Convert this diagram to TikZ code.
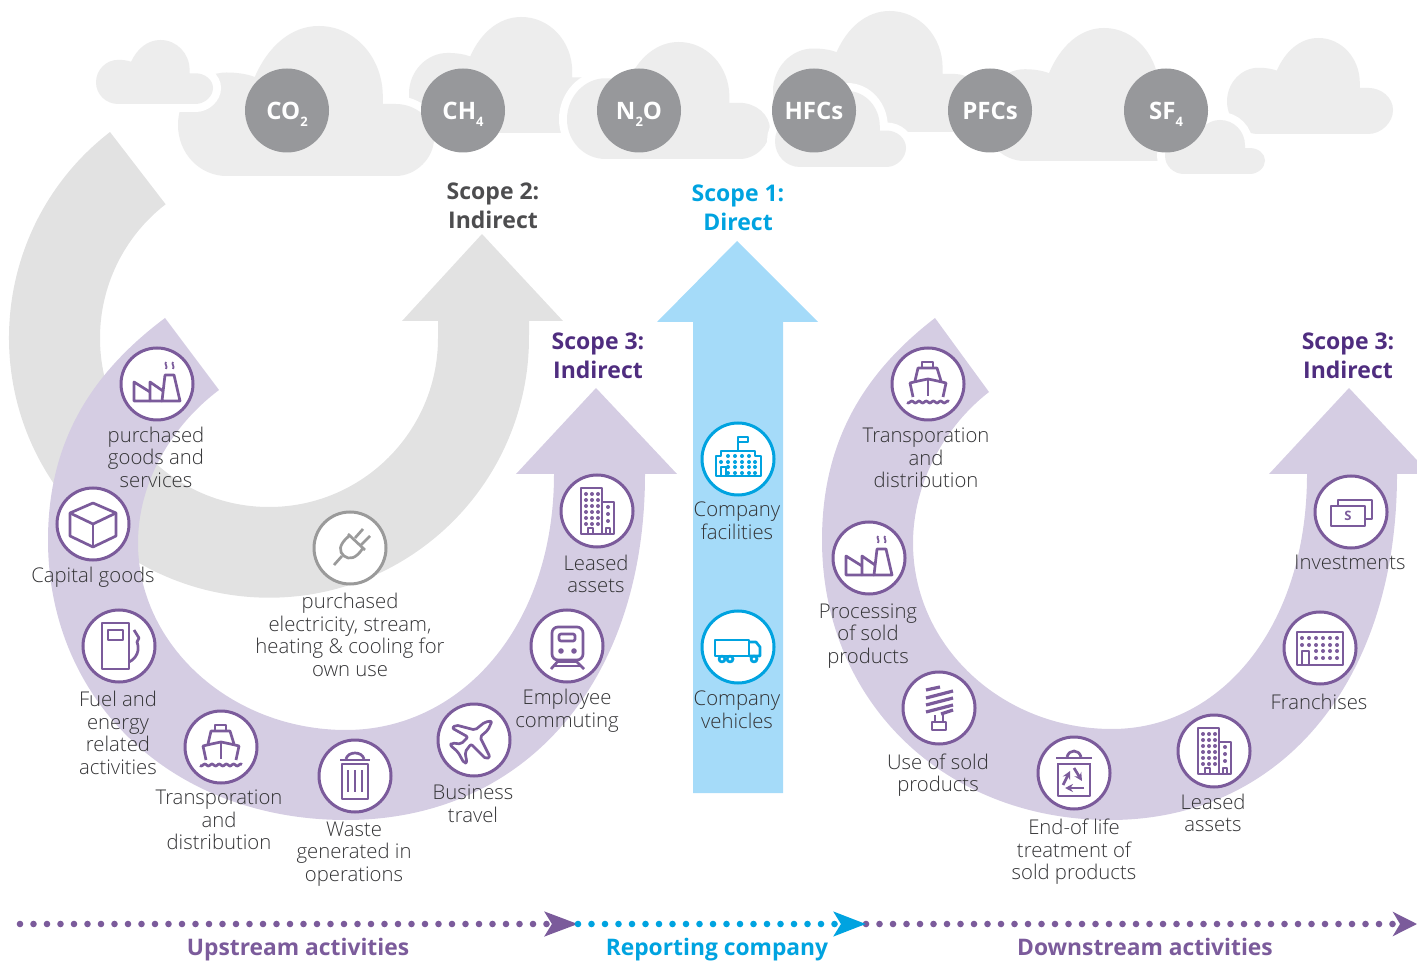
\documentclass[tikz,border=0pt]{standalone}
\usepackage{fontspec}
\setmainfont{Open Sans}
\newfontfamily\lightfont{Open Sans Light}
\usetikzlibrary{arrows.meta}
\definecolor{cloudgray}{HTML}{EDEDED}
\definecolor{gasgray}{HTML}{97989B}
\definecolor{arrowgray}{HTML}{E2E2E2}
\definecolor{ringgray}{HTML}{9A9A9A}
\definecolor{textgray}{HTML}{4D4D4F}
\definecolor{labelgray}{HTML}{333335}
\definecolor{paleviolet}{HTML}{D5CDE3}
\definecolor{ringviolet}{HTML}{7B5B9B}
\definecolor{deepviolet}{HTML}{4F2D7F}
\definecolor{paleblue}{HTML}{A5DBF9}
\definecolor{ringblue}{HTML}{00A3E0}
\newcommand{\gassub}[1]{\smash{\raisebox{-3.5pt}{\fontsize{6.5}{7}\selectfont #1}}}
\tikzset{
  gas/.style={circle,fill=gasgray,text=white,minimum size=42pt,inner sep=0pt,font=\bfseries\fontsize{12}{14}\selectfont},
  iconring/.style={circle,draw=ringviolet,fill=white,line width=1.5pt,minimum size=36pt,inner sep=0pt},
  lbl/.style={align=center,text=labelgray,font=\lightfont\fontsize{10.15}{11.3}\selectfont},
  scopelbl/.style={align=center,font=\bfseries\fontsize{11.5}{14.4}\selectfont},
  bottomlbl/.style={anchor=base,font=\bfseries\fontsize{11.4}{14}\selectfont},
  cloudshape/.style={fill=cloudgray,preaction={draw=white,line width=8pt}},
  iconline/.style={line width=1.35pt,line join=round},
  dotline/.style={line width=3.3pt,line cap=round,dash pattern=on 0pt off 6.75pt},
}
% left, top, width, height
\newcommand{\cloud}[4]{
\begin{scope}[shift={(#1,#2)},x=#3*0.5pt,y=-#4*0.5pt]
\path[cloudshape] (.19,1) .. controls (.085,1) and (0,.85) .. (0,.66)
  .. controls (0,.47) and (.085,.31) .. (.19,.31)
  .. controls (.23,.31) and (.27,.32) .. (.30,.34)
  .. controls (.35,.14) and (.44,0) .. (.55,0)
  .. controls (.69,0) and (.80,.21) .. (.80,.47) -- (.80,.52) -- (.85,.52)
  .. controls (.93,.52) and (1,.62) .. (1,.75)
  .. controls (1,.88) and (.93,1) .. (.85,1) -- cycle;
\end{scope}
}
\newcommand{\factoryicon}[2]{
\begin{scope}[shift={(#1,#2)},iconline,color=ringviolet]
\draw (-7,17) -- (-23,17) -- (-23,-2) -- (-7,8);
\draw (5,17) -- (-7,17) -- (-7,-2) -- (6,7);
\draw (5,17) -- (8,-9) -- (17,-9) -- (23,17) -- cycle;
\foreach \x in {9,16} {
  \draw[line width=0.9pt] (\x,-22) .. controls (\x-2,-20) and (\x+2,-18) .. (\x,-15);
}
\end{scope}
}
\newcommand{\shipicon}[2]{
\begin{scope}[shift={(#1,#2)},iconline,color=ringviolet]
\draw (-6,-16) -- (-6,-22) -- (5,-22) -- (5,-16);
\draw (-13,-3) -- (-10,-16) -- (9,-16) -- (13,-3);
\draw (-15,13) -- (-18,-1) .. controls (-10,-3) and (-5,-4) .. (0,-5) .. controls (5,-4) and (10,-3) .. (18,-1) -- (15,13);
\draw (0,-5) -- (0,12);
\draw plot[domain=-21:21,samples=43] (\x,{18+1*sin(\x*50)});
\end{scope}
}
\newcommand{\towericon}[2]{
\begin{scope}[shift={(#1,#2)},iconline,color=ringviolet]
\draw (5,23) -- (-16,23) -- (-16,-23) -- (5,-23) -- (5,23);
\draw (5,-9) -- (17,-9) -- (17,23) -- (5,23);
\draw (-9,23) -- (-9,17) -- (-4,17) -- (-4,23);
\draw (9,23) -- (9,17) -- (13,17) -- (13,23);
\foreach \y in {-17,-11,-5,1,7,13} {
  \foreach \x in {-11,-5,1} {
    \fill (\x,\y) circle (1pt);
  }
}
\foreach \y in {-4,3,10} {
  \fill (11,\y) circle (1pt);
}
\end{scope}
}
\begin{document}
\begin{tikzpicture}[x=0.5pt,y=-0.5pt]
\useasboundingbox (0,0) rectangle (1417,961);
\clip (0,0) rectangle (1417,961);
% clouds
\cloud{409}{17}{204}{116}
\cloud{178}{26}{256}{150}
\cloud{96}{40}{117}{64}
\cloud{773}{11}{212}{121}
\cloud{983}{28}{220}{133}
\cloud{567}{42}{203}{117}
\cloud{775}{91}{131}{76}
\cloud{1227}{38}{166}{96}
\cloud{1165}{120}{100}{54}
\foreach \x/\n/\t in {287/co/{CO\gassub{2}},463/ch/{CH\gassub{4}},639/no/{N\gassub{2}O},814/hfc/{HFCs},990/pfc/{PFCs},1166/sf/{SF\gassub{4}}} {
  \node[gas] (\n) at (\x,110.5) {\t};
}
% scope 2 arrow
\fill[arrowgray] (110,132) arc[start angle=127.7,end angle=360,radius=130pt]
  -- (529,321) -- (563,321) -- (482,234) -- (402,321) -- (438,321) -- (438,338)
  arc[start angle=0,end angle=-232.3,radius=84.5pt] -- cycle;
% scope 3 arrows
\fill[paleviolet] (165,318) .. controls (93,372) and (48,440) .. (48,540)
  .. controls (48,702) and (173,820) .. (346,820)
  .. controls (525,820) and (645,682) .. (645,474)
  -- (677,474) -- (596,388) -- (516,474) -- (554,474)
  .. controls (554,628) and (460,730) .. (346,730)
  .. controls (232,730) and (138,646) .. (138,543)
  .. controls (138,483) and (171,426) .. (219,390) -- cycle;
\fill[paleviolet] (935,318) .. controls (865,372) and (822,440) .. (822,540)
  .. controls (822,702) and (945,820) .. (1110,820)
  .. controls (1281,820) and (1397,682) .. (1397,474)
  -- (1430,474) -- (1349,388) -- (1269,474) -- (1307,474)
  .. controls (1307,628) and (1220,729) .. (1112,729)
  .. controls (1002,729) and (913,646) .. (913,543)
  .. controls (913,483) and (945,426) .. (989,392) -- cycle;
% scope 1 arrow
\fill[paleblue] (657,322) -- (737,241) -- (818,322) -- (783,322) -- (783,793) -- (693,793) -- (693,322) -- cycle;
% titles
\node[scopelbl,text=textgray] (scope2) at (493,206) {Scope 2:\\Indirect};
\node[scopelbl,text=ringblue] (scope1) at (738,208) {Scope 1:\\Direct};
\node[scopelbl,text=deepviolet] (scope3a) at (598,356) {Scope 3:\\Indirect};
\node[scopelbl,text=deepviolet] (scope3b) at (1348,356) {Scope 3:\\Indirect};
% rings
\foreach \n/\x/\y in {goods/157/384,capital/93/524,fuel/119/646,transa/221/747,waste/355/776,travel/474/740,commute/567/646,leaseda/597/511,transb/928/384,process/869/558,use/939/708,endlife/1074/773,leasedb/1214/751,franchise/1320/648,invest/1351/512} {
  \node[iconring] (\n) at (\x,\y) {};
}
\node[iconring,draw=ringgray] (plug) at (350,548) {};
\node[iconring,draw=ringblue] (facility) at (738,459) {};
\node[iconring,draw=ringblue] (vehicle) at (738,647) {};
% icons
\factoryicon{157}{384}
\factoryicon{869}{558}
\shipicon{221}{747}
\shipicon{928}{384}
\towericon{597}{511}
\towericon{1214}{751}
% cube
\begin{scope}[shift={(93,524)},iconline,color=ringviolet]
\draw (0,-21) -- (23,-11) -- (23,12) -- (0,23) -- (-23,12) -- (-23,-11) -- cycle;
\draw (-23,-11) -- (0,0) -- (23,-11);
\draw (0,0) -- (0,23);
\end{scope}
% pump
\begin{scope}[shift={(119,646)},iconline,color=ringviolet]
\draw (-17,-23) rectangle (10,23);
\draw (-11,-16) rectangle (4,-6);
\draw (15,-16) -- (20,-8) -- (18,-4) .. controls (21,4) and (18,12) .. (10,16);
\end{scope}
% bin
\begin{scope}[shift={(355,776)},iconline,color=ringviolet]
\draw (-15,-16) -- (15,-16);
\draw (-9,-17) .. controls (-7,-25) and (7,-25) .. (9,-17);
\draw (-13,-12) rectangle (13,23);
\foreach \x in {-7,0,7} {
  \draw (\x,-6) -- (\x,16);
}
\end{scope}
% plane
\begin{scope}[shift={(474,740)},iconline,color=ringviolet]
\draw[rounded corners=1pt] (18,-19) -- (14,-10) -- (6,-3) -- (16,17) -- (12,19) -- (-3,4) -- (-9,12) -- (-7,23) -- (-10,23) -- (-16,12) -- (-24,5) -- (-22,3) -- (-13,4) -- (-6,-3) -- (-22,-12) -- (-18,-15) -- (1,-10) -- (11,-18) -- cycle;
\end{scope}
% train
\begin{scope}[shift={(567,646)},iconline,color=ringviolet]
\draw[rounded corners=3pt] (-15,-19) rectangle (16,14);
\draw[rounded corners=1pt] (-8,-12) rectangle (8,-5);
\fill (-6,5) circle (1.4pt) (7,5) circle (1.4pt);
\draw (-8,14) -- (-16,23) (8,14) -- (17,23);
\draw (-10,16) -- (10,16) (-13,20) -- (13,20);
\end{scope}
% plug
\begin{scope}[shift={(350,548)},iconline,color=ringgray]
\draw (-16,17) -- (-8,8);
\draw (-2,-14) -- (15,2);
\draw (-1,-12) .. controls (-12,-3) and (-11,4) .. (-6,8) .. controls (-1,12) and (6,11) .. (13,0);
\draw (5,-10) -- (13,-19) (11,-3) -- (20,-12);
\end{scope}
% office
\begin{scope}[shift={(738,459)},iconline,color=ringblue]
\draw (-22,17) -- (-22,-3) -- (-17,-3) -- (-17,-8) -- (17,-8) -- (17,-3) -- (23,-3) -- (23,17) -- cycle;
\draw (0,-8) -- (0,-22) -- (10,-22) -- (10,-17) -- (0,-17);
\draw (-17,17) -- (-17,8) -- (-12,8) -- (-12,17);
\foreach \x in {-10,-3,4,11} {
  \fill (\x,-3) circle (1pt);
}
\foreach \y in {3,8,14} {
  \foreach \x in {-10,-3,4,11,17} {
    \fill (\x,\y) circle (1pt);
  }
}
\fill (-17,3) circle (1pt);
\end{scope}
% truck
\begin{scope}[shift={(738,647)},iconline,color=ringblue]
\draw (-23,-7) rectangle (11,9);
\draw (11,-5) -- (18,-5) -- (22,0) -- (22,9) -- (11,9);
\foreach \x in {-16,-8,16} {
  \draw[fill=white] (\x,12) circle (1.5pt);
}
\end{scope}
% bulb
\begin{scope}[shift={(939,708)},iconline,color=ringviolet]
\draw[line width=1.6pt] (-13,-18) -- (1,-21) (-13,-10) -- (14,-17) (-13,-3) -- (14,-10) (-13,4) -- (14,-3) (2,6) -- (14,2);
\draw (-7,14) rectangle (7,22);
\draw (-4,7) -- (-4,14) (4,5) -- (4,14);
\end{scope}
% recycle bin
\begin{scope}[shift={(1074,773)},iconline,color=ringviolet]
\draw (-18,-15) -- (18,-15);
\draw (-7,-16) .. controls (-5,-24) and (5,-24) .. (7,-16);
\draw (-17,-9) -- (17,-9) (-16,-9) -- (-16,23) -- (16,23) -- (16,-9);
\draw[-{Stealth[length=4pt,width=4pt]}] (-11,12) -- (-4,-2);
\draw[-{Stealth[length=4pt,width=4pt]}] (0,-5) -- (8,8);
\draw[-{Stealth[length=4pt,width=4pt]}] (10,15) -- (-9,15);
\end{scope}
% building
\begin{scope}[shift={(1320,648)},iconline,color=ringviolet]
\draw (-23,-16) rectangle (23,17);
\draw (-18,17) -- (-18,3) -- (-11,3) -- (-11,17);
\foreach \y in {-10,-3} {
  \foreach \x in {-18,-11,-4,3,10,17} {
    \fill (\x,\y) circle (1pt);
  }
}
\foreach \y in {3,10} {
  \foreach \x in {-4,3,10,17} {
    \fill (\x,\y) circle (1pt);
  }
}
\end{scope}
% bills
\begin{scope}[shift={(1351,512)},iconline,color=ringviolet]
\draw (-13,-6) -- (-13,-12) -- (21,-12) -- (21,7) -- (14,7);
\draw (-20,-6) rectangle (14,14);
\node[font=\bfseries\fontsize{6.5}{7}\selectfont,text=ringviolet] (dollar) at (-3,4) {S};
\end{scope}
% labels
\node[lbl] (lblgoods) at (156,457) {purchased\\goods and\\services};
\node[lbl] (lblcapital) at (93,577) {Capital goods};
\node[lbl] (lblfuel) at (118,733) {Fuel and\\energy\\related\\activities};
\node[lbl] (lbltransa) at (219,820) {Transporation\\and\\distribution};
\node[lbl] (lblwaste) at (354,854) {Waste\\generated in\\operations};
\node[lbl] (lbltravel) at (473,804) {Business\\travel};
\node[lbl] (lblcommute) at (567,711) {Employee\\commuting};
\node[lbl] (lblleaseda) at (596,574) {Leased\\assets};
\node[lbl] (lblplug) at (350,635) {purchased\\electricity, stream,\\heating \& cooling for\\own use};
\node[lbl] (lblfacility) at (737,521) {Company\\facilities};
\node[lbl] (lblvehicle) at (737,710) {Company\\vehicles};
\node[lbl] (lbltransb) at (926,458) {Transporation\\and\\distribution};
\node[lbl] (lblprocess) at (868,636) {Processing\\of sold\\products};
\node[lbl] (lbluse) at (938,775) {Use of sold\\products};
\node[lbl] (lblendlife) at (1074,852) {End-of life\\treatment of\\sold products};
\node[lbl] (lblleasedb) at (1213,813) {Leased\\assets};
\node[lbl] (lblfranchise) at (1319,702) {Franchises};
\node[lbl] (lblinvest) at (1350,562) {Investments};
% bottom
\coordinate (upstart) at (20,924);
\coordinate (upend) at (578,924);
\coordinate (repend) at (866,924);
\coordinate (downend) at (1417,924);
\draw[dotline,ringviolet,-{Stealth[length=16.5pt,width=12pt,inset=3.5pt]}] (upstart) -- (upend);
\draw[dotline,ringviolet,-{Stealth[length=12pt,width=12pt,inset=3.5pt]}] (repend) -- (downend);
\draw[dotline,ringblue,-{Stealth[length=16pt,width=12pt,inset=3.5pt]}] (upend) -- (repend);
\node[bottomlbl,text=ringviolet] (upstream) at (298,955.5) {Upstream activities};
\node[bottomlbl,text=ringblue] (reporting) at (717,955.5) {Reporting company};
\node[bottomlbl,text=ringviolet] (downstream) at (1145,955.5) {Downstream activities};
\end{tikzpicture}
\end{document}
